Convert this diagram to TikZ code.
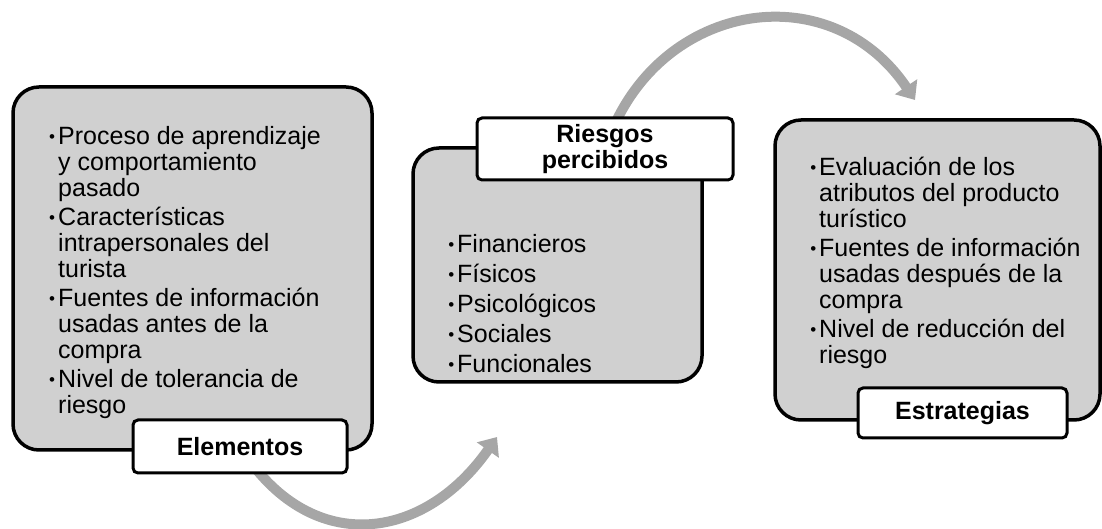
\documentclass[tikz,border=0pt]{standalone}
\usepackage{fontspec}
\setmainfont{Liberation Sans}
\usetikzlibrary{arrows.meta,backgrounds}
\definecolor{panelgray}{HTML}{D0D0D0}
\definecolor{arrowgray}{HTML}{A6A6A6}
\newcommand{\itm}{\llap{\raisebox{2pt}{\fontsize{17}{17}\selectfont\textbullet}\hspace{3pt}}}
\tikzset{
  panel/.style={draw, line width=3.5pt, fill=panelgray, rounded corners=26pt, inner sep=0pt},
  tag/.style={draw, line width=3pt, fill=white, rounded corners=5pt, inner sep=0pt, align=center,
    font=\fontsize{25}{26}\selectfont\bfseries},
  list/.style={anchor=north west, inner sep=0pt, align=left, font=\fontsize{25}{26}\selectfont},
  roundarrow/.style={draw=arrowgray, line width=10pt, -{Triangle[width=26pt,length=16pt]}}
}

\begin{document}
\begin{tikzpicture}[x=1pt, y=1pt]
  \useasboundingbox (0,0) rectangle (1102,529);

  % the three panels
  \node[panel, minimum width=359pt, minimum height=363pt] (elembox)  at (192.5,260.5) {};
  \node[panel, minimum width=289pt, minimum height=234pt] (riskbox)  at (557.5,264) {};
  \node[panel, minimum width=325pt, minimum height=300pt] (stratbox) at (937.5,259) {};

  % lists
  \node[list] (elemlist) at (58,403) {\itm Proceso de aprendizaje\\ y comportamiento\\ pasado\\[3pt]
    \itm Características\\ intrapersonales del\\ turista\\[3pt]
    \itm Fuentes de información\\ usadas antes de la\\ compra\\[3pt]
    \itm Nivel de tolerancia de\\ riesgo};
  \node[list, font=\fontsize{25}{30}\selectfont] (risklist) at (457,295.2)
    {\itm Financieros\\ \itm Físicos\\ \itm Psicológicos\\ \itm Sociales\\ \itm Funcionales};
  \node[list] (stratlist) at (819,372.6) {\itm Evaluación de los\\ atributos del producto\\ turístico\\[3pt]
    \itm Fuentes de información\\ usadas después de la\\ compra\\[3pt]
    \itm Nivel de reducción del\\ riesgo};

  % titles
  \node[tag, minimum width=214pt, minimum height=53pt] (elem)  at (240,82.5) {Elementos};
  \node[tag, minimum width=256pt, minimum height=62pt] (risk)  at (605,380)  {Riesgos\\ percibidos};
  \node[tag, minimum width=209pt, minimum height=50pt] (strat) at (962.5,116) {Estrategias};

  % curved arrows
  \coordinate (tipA) at (497,92);
  \coordinate (tipB) at (915,429);
  \begin{scope}[on background layer]
    \draw[roundarrow] (elem.center) to[out=-58, in=-125, looseness=1.29] (tipA);
    \draw[roundarrow] (risk.center) to[out=72, in=124, looseness=1.26] (tipB);
  \end{scope}
\end{tikzpicture}
\end{document}
